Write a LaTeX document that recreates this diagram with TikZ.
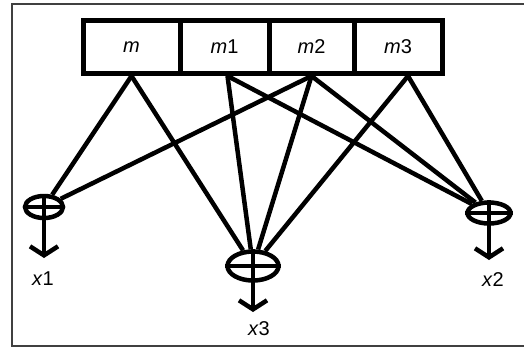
\documentclass[tikz,border=0pt]{standalone}
\usepackage{fontspec}
\setmainfont{Liberation Sans}
\usetikzlibrary{shapes.geometric,arrows.meta}
\begin{document}
\begin{tikzpicture}[x=1pt,y=-1pt,
  cell/.style={draw,line width=5pt,minimum height=53pt,inner sep=0pt,font=\fontsize{20}{24}\selectfont},
  sum/.style={draw,ellipse,line width=4.5pt,inner sep=0pt},
  conn/.style={line width=4.5pt},
  outarrow/.style={line width=4.5pt,-{Straight Barb[length=9pt,width=28pt]}},
  lab/.style={font=\fontsize{20}{24}\selectfont,inner sep=0pt}]
\useasboundingbox (0,0) rectangle (524,349);
\fill[white] (0,0) rectangle (524,349);
\draw[line width=1.8pt,black!75] (12,4) rectangle (530,346);
% cells
\node[cell,minimum width=97pt] (m)  at (131.5,47) {\textit{m}};
\node[cell,minimum width=89pt] (m1) at (224.5,47) {\textit{m}1};
\node[cell,minimum width=85pt] (m2) at (311.5,47) {\textit{m}2};
\node[cell,minimum width=88pt] (m3) at (398,47)   {\textit{m}3};
\coordinate (m1b) at ([xshift=3pt]m1.south);
\coordinate (m3b) at ([xshift=10pt]m3.south);
% summing nodes
\node[sum,minimum width=38pt,minimum height=22pt] (x1) at (44,207) {};
\node[sum,minimum width=51pt,minimum height=29pt] (x3) at (253,266) {};
\node[sum,minimum width=43pt,minimum height=21pt] (x2) at (489,213) {};
\foreach \n in {x1,x2,x3}{
  \draw[line width=3.5pt] (\n.north) -- (\n.south) (\n.west) -- (\n.east);
}
% connectors
\draw[conn] (m.south) -- (x1);
\draw[conn] (m.south) -- (x3);
\draw[conn] (m1b) -- (x3);
\draw[conn] (m1b) -- (x2);
\draw[conn] (m2.south) -- (x1);
\draw[conn] (m2.south) -- (x3);
\draw[conn] (m2.south) -- (x2);
\draw[conn] (m3b) -- (x3);
\draw[conn] (m3b) -- (x2);
% outputs
\coordinate (t1) at (44,258);
\coordinate (t3) at (253,312);
\coordinate (t2) at (489,260);
\draw[outarrow] (x1.south) -- (t1);
\draw[outarrow] (x3.south) -- (t3);
\draw[outarrow] (x2.south) -- (t2);
\node[lab] (l1) at (43,279) {\textit{x}1};
\node[lab] (l3) at (259,329) {\textit{x}3};
\node[lab] (l2) at (493,280) {\textit{x}2};
\end{tikzpicture}
\end{document}
